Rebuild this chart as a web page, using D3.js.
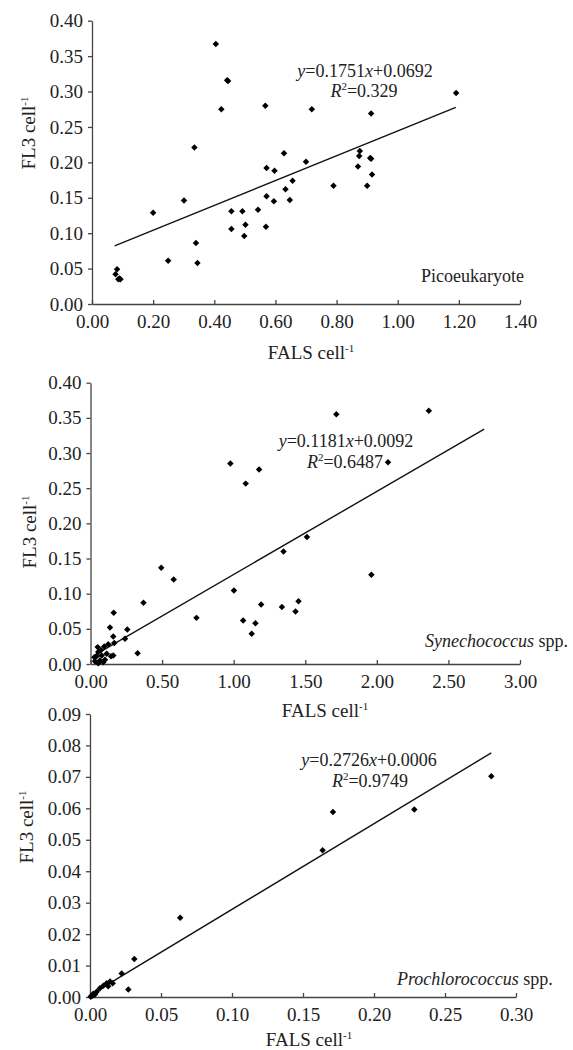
<!DOCTYPE html>
<html>
<head>
<meta charset="utf-8">
<script src="https://cdn.jsdelivr.net/npm/d3@7"></script>
<style>
  body { margin: 0; background: #fff; }
  svg text { font-family: "Liberation Serif", "Times New Roman", serif; fill: #222; }
  .axis path, .axis line { stroke: #444; stroke-width: 1.3; }
  .axis text { font-size: 19px; fill: #222; }
</style>
</head>
<body>
<svg id="chart" width="573" height="1050"></svg>
<script>
// Picoeukaryote: FALS cell-1 vs FL3 cell-1
const picoX = [0.077, 0.082, 0.086, 0.090, 0.093, 0.200, 0.249, 0.301, 0.335, 0.340,
  0.345, 0.405, 0.423, 0.442, 0.445, 0.456, 0.456, 0.492, 0.498, 0.502,
  0.543, 0.567, 0.571, 0.571, 0.569, 0.597, 0.595, 0.628, 0.633, 0.647,
  0.656, 0.700, 0.719, 0.790, 0.870, 0.874, 0.876, 0.900, 0.910, 0.913,
  0.913, 0.916, 1.191];
const picoY = [0.042, 0.049, 0.035, 0.036, 0.035, 0.129, 0.061, 0.146, 0.221, 0.086,
  0.058, 0.367, 0.275, 0.316, 0.315, 0.131, 0.106, 0.131, 0.096, 0.112,
  0.133, 0.280, 0.192, 0.152, 0.109, 0.188, 0.145, 0.213, 0.162, 0.147,
  0.174, 0.201, 0.275, 0.167, 0.194, 0.209, 0.216, 0.167, 0.206, 0.205,
  0.269, 0.183, 0.298];

// Synechococcus spp.
const synX = [0.494, 0.581, 0.370, 0.162, 0.136, 0.257, 0.241, 0.159, 0.166, 0.124,
  0.096, 0.073, 0.054, 0.043, 0.078, 0.113, 0.143, 0.159, 0.031, 0.066,
  0.101, 0.054, 0.089, 0.050, 0.027, 0.329, 0.740, 0.977, 1.084, 1.002,
  1.066, 1.126, 1.152, 1.178, 1.717, 2.363, 2.078, 1.512, 1.348, 1.962,
  1.192, 1.337, 1.453, 1.432];
const synY = [0.137, 0.120, 0.087, 0.073, 0.052, 0.049, 0.036, 0.039, 0.030, 0.028,
  0.025, 0.020, 0.017, 0.011, 0.012, 0.0145, 0.011, 0.012, 0.004, 0.005,
  0.006, 0.001, 0.0026, 0.024, 0.0097, 0.0154, 0.0656, 0.285, 0.2565, 0.1045,
  0.0618, 0.043, 0.058, 0.2765, 0.355, 0.360, 0.287, 0.1805, 0.160, 0.127,
  0.0846, 0.0812, 0.0893, 0.0746];

// Prochlorococcus spp.
const proX = [0.0635, 0.0312, 0.0223, 0.027, 0.0141, 0.0117, 0.016, 0.0094, 0.007, 0.0047,
  0.0023, 0.001, 0.0035, 0.0128, 0.002, 0.0005, 0.1638, 0.1711, 0.2284, 0.2826];
const proY = [0.0252, 0.0121, 0.0075, 0.0024, 0.0049, 0.0044, 0.0044, 0.0036, 0.0028, 0.0017,
  0.0010, 0.0003, 0.0008, 0.0034, 0.0005, 0.0001, 0.0467, 0.0588, 0.0596, 0.0702];

// linear fits as printed on the chart
const fitSlope = [0.1751, 0.1181, 0.2726];
const fitIntercept = [0.0692, 0.0092, 0.0006];
const fitR2 = ["0.329", "0.6487", "0.9749"];
const fitFrom = [0.074, 0.02, 0];
const fitTo = [1.19, 2.75, 0.2826];

const xTicks1 = [0, 0.2, 0.4, 0.6, 0.8, 1.0, 1.2, 1.4];
const xTicks2 = [0, 0.5, 1.0, 1.5, 2.0, 2.5, 3.0];
const xTicks3 = [0, 0.05, 0.10, 0.15, 0.20, 0.25, 0.30];
const yTicks12 = [0, 0.05, 0.10, 0.15, 0.20, 0.25, 0.30, 0.35, 0.40];
const yTicks3 = [0, 0.01, 0.02, 0.03, 0.04, 0.05, 0.06, 0.07, 0.08, 0.09];

const serif = "'Liberation Serif', 'Times New Roman', serif";

const panels = [
  {xs: picoX, ys: picoY, xTicks: xTicks1, yTicks: yTicks12, fit: 0,
   xr: [92, 520], yr: [304, 20.7], ytitle: [28, 133], xtitle: [311, 359],
   eq: [365, 77], r2: [364, 97], label: [421, 282], name: "Picoeukaryote", italic: false},
  {xs: synX, ys: synY, xTicks: xTicks2, yTicks: yTicks12, fit: 1,
   xr: [90.5, 520], yr: [664, 382.7], ytitle: [29, 532], xtitle: [325, 717],
   eq: [346, 447], r2: [345, 468], label: [425, 647], name: "Synechococcus", italic: true},
  {xs: proX, ys: proY, xTicks: xTicks3, yTicks: yTicks3, fit: 2,
   xr: [90, 516], yr: [997, 714], ytitle: [26, 827], xtitle: [309, 1046],
   eq: [369, 766], r2: [370, 787], label: [397, 985], name: "Prochlorococcus", italic: true}
];

const svg = d3.select("#chart");
const fmt = d3.format(".2f");
const diamond = d3.symbol().type(d3.symbolSquare).size(21);

function superTitle(g, base) {
  g.append("tspan").text(base);
  g.append("tspan").attr("font-size", "11px").attr("dy", -7).text("-1");
}

panels.forEach(function(p) {
  let x = d3.scaleLinear().domain([0, d3.max(p.xTicks)]).range(p.xr);
  let y = d3.scaleLinear().domain([0, d3.max(p.yTicks)]).range(p.yr);

  svg.append("g")
    .attr("class", "axis")
    .attr("transform", "translate(0," + p.yr[0] + ")")
    .call(d3.axisBottom(x).tickValues(p.xTicks).tickFormat(fmt)
      .tickSizeInner(-4).tickSizeOuter(0).tickPadding(11))
    .attr("font-family", serif).attr("font-size", 19);

  svg.append("g")
    .attr("class", "axis")
    .attr("transform", "translate(" + p.xr[0] + ",0)")
    .call(d3.axisLeft(y).tickValues(p.yTicks).tickFormat(fmt)
      .tickSizeInner(4).tickSizeOuter(0).tickPadding(5))
    .attr("font-family", serif).attr("font-size", 19);

  // trend line
  let i = p.fit;
  let line = d3.line()
    .x(function(d) { return x(d); })
    .y(function(d) { return y(fitSlope[i] * d + fitIntercept[i]); });
  svg.append("path")
    .datum([fitFrom[i], fitTo[i]])
    .attr("d", line)
    .attr("fill", "none")
    .attr("stroke", "#111")
    .attr("stroke-width", 1.4);

  // points
  svg.append("g").selectAll("path")
    .data(d3.zip(p.xs, p.ys))
    .enter()
    .append("path")
    .attr("d", diamond)
    .attr("transform", function(d) { return "translate(" + x(d[0]) + "," + y(d[1]) + ") rotate(45)"; })
    .attr("fill", "#000");

  // equation
  let eq = svg.append("text")
    .attr("x", p.eq[0]).attr("y", p.eq[1])
    .attr("text-anchor", "middle").attr("font-size", "18px");
  eq.append("tspan").attr("font-style", "italic").text("y");
  eq.append("tspan").text("=" + fitSlope[i].toFixed(4));
  eq.append("tspan").attr("font-style", "italic").text("x");
  eq.append("tspan").text("+" + fitIntercept[i].toFixed(4));

  let r2 = svg.append("text")
    .attr("x", p.r2[0]).attr("y", p.r2[1])
    .attr("text-anchor", "middle").attr("font-size", "18px");
  r2.append("tspan").attr("font-style", "italic").text("R");
  r2.append("tspan").attr("font-size", "11px").attr("dy", -7).text("2");
  r2.append("tspan").attr("dy", 7).text("=" + fitR2[i]);

  // series label
  let lab = svg.append("text")
    .attr("x", p.label[0]).attr("y", p.label[1])
    .attr("font-size", "18px");
  lab.append("tspan").attr("font-style", p.italic ? "italic" : "normal").text(p.name);
  if (p.italic) lab.append("tspan").text(" spp.");

  // axis titles
  let xt = svg.append("text")
    .attr("x", p.xtitle[0]).attr("y", p.xtitle[1])
    .attr("text-anchor", "middle").attr("font-size", "19px");
  superTitle(xt, "FALS cell");

  let yt = svg.append("text")
    .attr("transform", "translate(" + p.ytitle[0] + "," + p.ytitle[1] + ") rotate(-90)")
    .attr("text-anchor", "middle").attr("dy", "0.35em").attr("font-size", "19px");
  superTitle(yt, "FL3 cell");
});
</script>
</body>
</html>
